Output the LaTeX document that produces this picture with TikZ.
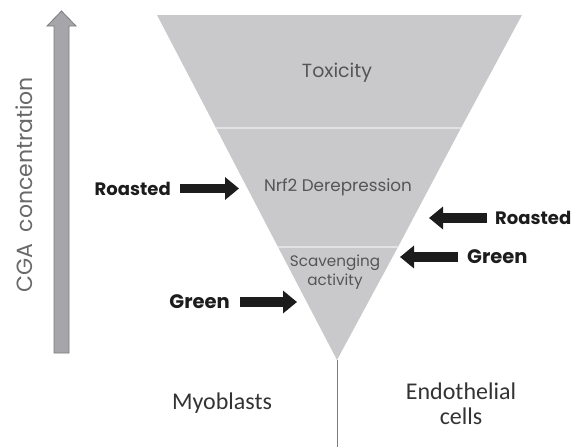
\documentclass[tikz,border=0pt]{standalone}
\usepackage{fontspec}
\setmainfont{Poppins}
\newfontfamily\calib{Carlito}
\usetikzlibrary{arrows.meta}
\definecolor{trifill}{HTML}{C9C9CB}
\definecolor{divline}{HTML}{E2E2E4}
\definecolor{garrow}{HTML}{A6A6AA}
\definecolor{garrowb}{HTML}{7C7C80}
\definecolor{blk}{HTML}{1C1C1C}
\definecolor{lbl}{HTML}{555557}
\definecolor{cga}{HTML}{69696B}
\definecolor{cell}{HTML}{333333}
\tikzset{
  tri/.style={fill=trifill, draw=none},
  divider/.style={draw=divline, line width=1.4pt},
  level/.style={text=lbl, align=center, inner sep=0pt},
  dose/.style={text=blk, font=\bfseries\fontsize{18}{21}\selectfont, inner sep=0pt},
  dosegreen/.style={dose, font=\bfseries\fontsize{19.5}{22}\selectfont},
  push/.style={draw=blk, line width=9.5pt, -{Triangle[length=14pt,width=22pt]}},
  celltxt/.style={text=cell, font=\calib\fontsize{24}{27}\selectfont, align=center, inner sep=0pt},
}
\begin{document}
\begin{tikzpicture}[x=1pt,y=-1pt]
\useasboundingbox (0,0) rectangle (573,447);
% triangle corners
\coordinate (tl) at (157,15);
\coordinate (tr) at (522,15);
\coordinate (apex) at (337,360);
\coordinate (l1) at (216,128);
\coordinate (r1) at (461,128);
\coordinate (l2) at (278,247);
\coordinate (r2) at (398,247);
\coordinate (bottom) at (337,447);
% three levels
\fill[tri] (tl) -- (tr) -- (r1) -- (l1) -- cycle;
\fill[tri] (l1) -- (r1) -- (r2) -- (l2) -- cycle;
\fill[tri] (l2) -- (r2) -- (apex) -- cycle;
\draw[divider] (l1) -- (r1);
\draw[divider] (l2) -- (r2);
% stem
\draw[draw=garrowb, line width=1pt] (apex) -- (bottom);
% labels inside
\node[level, font=\fontsize{19}{22}\selectfont] (tox) at (337,73) {Toxicity};
\node[level, font=\fontsize{16.8}{19}\selectfont] (nrf) at (338,187) {Nrf2 Derepression};
\node[level, font=\fontsize{15.2}{19.5}\selectfont] (scav) at (335,272) {Scavenging\\activity};
% CGA arrow
\filldraw[fill=garrow, draw=garrowb, line width=0.8pt]
  (54,353) -- (54,26) -- (47,26) -- (61.5,11) -- (76,26) -- (69,26) -- (69,353) -- cycle;
\node[text=cga, rotate=90, font=\fontsize{22}{25}\selectfont, inner sep=0pt] (cgalbl) at (24,185) {CGA\ \ concentration};
% dose labels
\node[dose, anchor=east] (roastL) at (171,188.5) {Roasted};
\node[dose, anchor=west] (roastR) at (495,218) {Roasted};
\node[dosegreen, anchor=west] (greenR) at (467,257) {Green};
\node[dosegreen, anchor=east] (greenL) at (230,302) {Green};
\coordinate (roastLtip) at (239,188.5);
\coordinate (roastRtip) at (429,218);
\coordinate (greenRtip) at (400,257);
\coordinate (greenLtip) at (297,302);
\draw[push] ([xshift=9pt]roastL.east) -- (roastLtip);
\draw[push] ([xshift=-8pt]roastR.west) -- (roastRtip);
\draw[push] ([xshift=-9pt]greenR.west) -- (greenRtip);
\draw[push] ([xshift=10pt]greenL.east) -- (greenLtip);
% cell types
\node[celltxt] (myo) at (222,403) {Myoblasts};
\node[celltxt] (endo) at (461,404) {Endothelial\\[-2pt]cells};
\end{tikzpicture}
\end{document}
